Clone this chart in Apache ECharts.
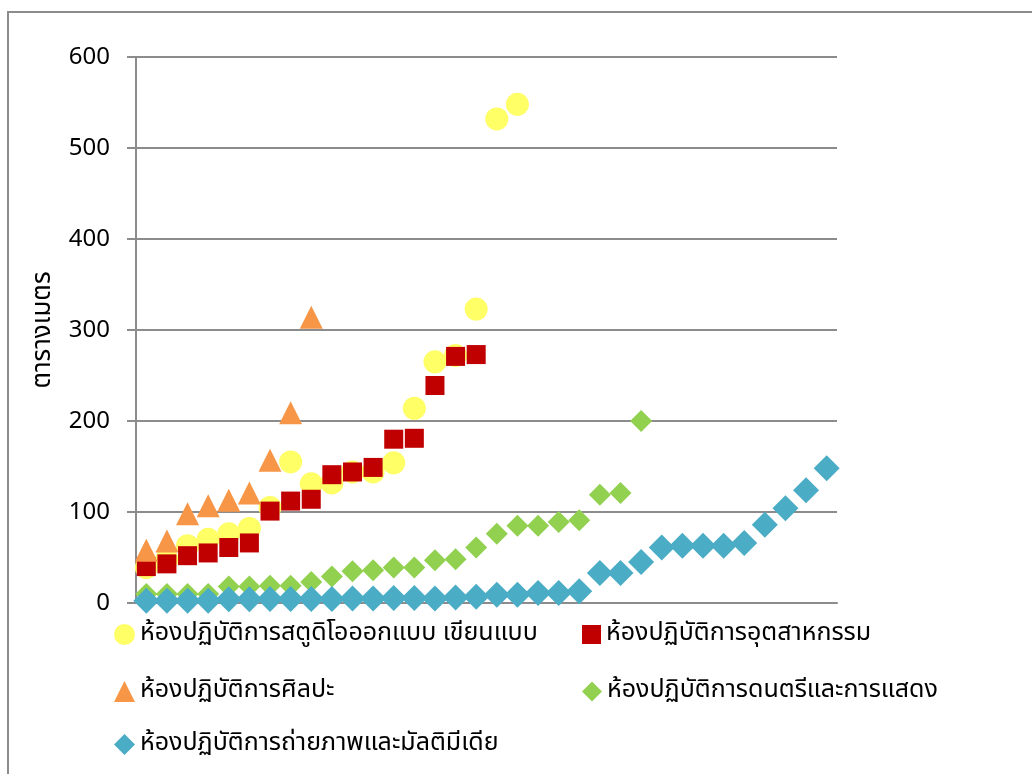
<!DOCTYPE html>
<html>
<head>
<meta charset="utf-8">
<script src="https://cdn.jsdelivr.net/npm/echarts@6/dist/echarts.min.js"></script>
<style>
  html, body { margin: 0; padding: 0; background: #fff; }
  #chart { width: 1032px; height: 774px; }
</style>
</head>
<body>
<div id="chart"></div>
<script>
var myChart = echarts.init(document.getElementById('chart'))

// ลำดับห้อง (ไม่แสดงป้าย)
var categories = []
for (var i = 1; i <= 34; i++) categories.push(String(i))

var seriesNames = [
  'ห้องปฏิบัติการสตูดิโอออกแบบ เขียนแบบ',
  'ห้องปฏิบัติการอุตสาหกรรม',
  'ห้องปฏิบัติการศิลปะ',
  'ห้องปฏิบัติการดนตรีและการแสดง',
  'ห้องปฏิบัติการถ่ายภาพและมัลติมีเดีย'
]

var studioValues = [39, 48, 63, 70, 76, 82, 105, 155, 131, 132, 144, 144, 154, 214, 265, 272, 323, 532, 548]
var industryValues = [40, 43, 52, 55, 61, 66, 101, 112, 114, 141, 144, 149, 180, 181, 239, 271, 273]
var artValues = [58, 68, 98, 107, 113, 121, 157, 209, 314]
var musicValues = [10, 10, 10, 10, 18, 18, 19, 19, 23, 29, 35, 36, 39, 39, 47, 48, 61, 76, 85, 85, 89, 91, 119, 121, 200]
var mediaValues = [2.5, 2.5, 2.5, 2.5, 4, 4, 4.5, 4.5, 4.5, 4.5, 5, 5, 5.5, 5.5, 5, 6, 7, 9, 9, 11, 11, 13, 33, 33, 45, 61, 63, 63, 63, 66, 86, 104, 124, 148]

var yTicks = [0, 100, 200, 300, 400, 500, 600]

var gridColor = '#8c8c8c'
var thaiFont = '"Noto Sans Thai", "Noto Sans Thai UI", Tahoma, "Noto Sans", "DejaVu Sans", sans-serif'

var colors = ['#ffff66', '#c00000', '#f79646', '#92d050', '#4bacc6']
var symbols = ['circle', 'rect', 'triangle', 'diamond', 'diamond']
var symbolSizes = [23, 19, 23, 22, 26]
var legendIconSizes = [21, 19, 21, 20, 21]
var legendPos = [[114, 622], [582, 622], [114, 679], [582, 679], [114, 732]]

var allValues = [studioValues, industryValues, artValues, musicValues, mediaValues]

var series = []
var legends = []
for (var s = 0; s < 5; s++) {
  series.push({
    name: seriesNames[s],
    type: 'scatter',
    symbol: symbols[s],
    symbolSize: symbolSizes[s],
    itemStyle: { color: colors[s], opacity: 1 },
    emphasis: { disabled: true },
    data: allValues[s]
  })
  legends.push({
    data: [{ name: seriesNames[s], icon: symbols[s] }],
    left: legendPos[s][0],
    top: legendPos[s][1],
    padding: 0,
    itemWidth: legendIconSizes[s],
    itemHeight: legendIconSizes[s],
    selectedMode: false,
    textStyle: { color: '#000', fontSize: 25, fontFamily: thaiFont }
  })
}

var option = {
  animation: false,
  color: colors,
  graphic: [
    {
      type: 'rect',
      shape: { x: 8, y: 12, width: 1100, height: 900 },
      style: { fill: 'none', stroke: '#8c8c8c', lineWidth: 2 },
      silent: true
    }
  ],
  legend: legends,
  grid: { left: 136, right: 195, top: 57, bottom: 171 },
  xAxis: {
    type: 'category',
    data: categories,
    boundaryGap: true,
    axisLine: { show: true, lineStyle: { color: gridColor, width: 2 } },
    axisTick: { show: false },
    axisLabel: { show: false },
    splitLine: { show: false }
  },
  yAxis: {
    type: 'value',
    min: yTicks[0],
    max: yTicks[yTicks.length - 1],
    interval: 100,
    name: 'ตารางเมตร',
    nameLocation: 'middle',
    nameRotate: 90,
    nameGap: 78,
    nameTextStyle: { color: '#000', fontSize: 26, fontFamily: thaiFont },
    axisLine: { show: true, lineStyle: { color: gridColor, width: 2 } },
    axisTick: { show: true, length: 9, lineStyle: { color: gridColor, width: 2 } },
    axisLabel: { color: '#000', fontSize: 24, margin: 26, fontFamily: '"Noto Sans", "DejaVu Sans", sans-serif' },
    splitLine: { show: true, lineStyle: { color: gridColor, width: 2 } }
  },
  series: series
}

myChart.setOption(option)
</script>
</body>
</html>
